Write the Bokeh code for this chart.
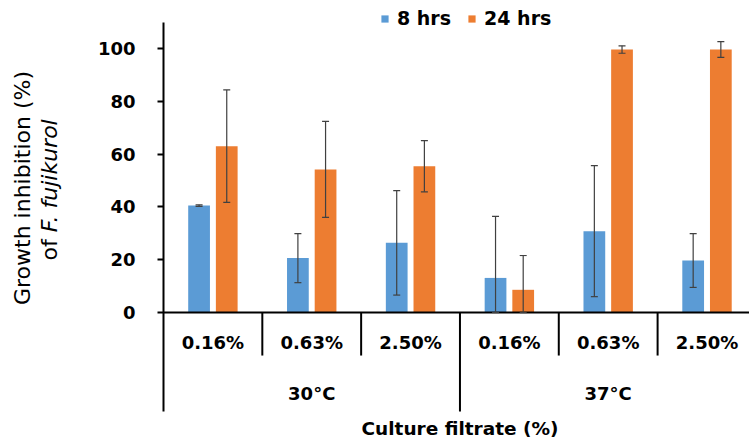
import math
from bokeh.plotting import figure
from bokeh.layouts import row
from bokeh.models import (Range1d, FixedTicker, ColumnDataSource, Whisker, TeeHead,
                          Legend, LegendItem)
from bokeh.core.properties import value
from bokeh.embed import file_html
from bokeh.resources import INLINE

# ---------------- data ----------------
categories = ["0.16%", "0.63%", "2.50%", "0.16%", "0.63%", "2.50%"]
groups = ["30°C", "37°C"]
series_names = ["8 hrs", "24 hrs"]
inhib_8h = [40.5, 20.6, 26.4, 13.1, 30.8, 19.7]
err_8h = [0.3, 9.3, 19.8, 23.3, 24.8, 10.2]
inhib_24h = [63.0, 54.2, 55.4, 8.6, 99.6, 99.6]
err_24h = [21.3, 18.2, 9.7, 13.0, 1.4, 3.0]
y_ticks = [0, 20, 40, 60, 80, 100]
y_title = "Growth inhibition (%)"
y_title2a = "of "
y_title2b = "F. fujikurol"
x_title = "Culture filtrate (%)"

BLUE = "#5B9BD5"
ORANGE = "#ED7D31"
ERR = "#404040"
FONT = "DejaVu Sans"

W, H = 749, 441
TW = 75           # width of the y-title strip

# ---------------- y-title strip ----------------
t = figure(width=TW, height=H, x_range=Range1d(0, TW), y_range=Range1d(0, H),
           output_backend="svg", toolbar_location=None, x_axis_location=None, y_axis_location=None,
           min_border=0)
t.outline_line_color = None
t.grid.visible = False
t.text(x=[22], y=[H - 187.5], text=[y_title], angle=math.pi / 2, text_align="center",
       text_baseline="middle", text_font=value(FONT), text_font_size="22px", text_color="black")
t.text(x=[49], y=[H - 260], text=[y_title2a], angle=math.pi / 2, text_align="left",
       text_baseline="middle", text_font=value(FONT), text_font_size="22px", text_color="black")
t.text(x=[49], y=[H - 260 + 28.2], text=[y_title2b], angle=math.pi / 2, text_align="left",
       text_baseline="middle", text_font=value(FONT), text_font_size="22px",
       text_font_style="italic", text_color="black")

# ---------------- main chart ----------------
n = len(categories)
centers = [i + 0.5 for i in range(n)]
off, bw = 0.14, 0.22

p = figure(width=W - TW, height=H, x_range=Range1d(0, 5.93), y_range=Range1d(-48.86, 118.18),
           output_backend="svg", toolbar_location=None, x_axis_location=None,
           min_border_left=163 - TW, min_border_right=0, min_border_top=0, min_border_bottom=0)
p.outline_line_color = None
p.grid.visible = False

ya = p.yaxis[0]
ya.ticker = FixedTicker(ticks=y_ticks)
ya.bounds = (-37.5, 110)
ya.axis_line_width = 2
ya.axis_line_color = "black"
ya.major_tick_line_width = 2
ya.major_tick_line_color = "black"
ya.major_tick_out = 6
ya.major_tick_in = 0
ya.minor_tick_line_color = None
ya.major_label_standoff = 22
ya.major_label_text_font = FONT
ya.major_label_text_font_style = "bold"
ya.major_label_text_font_size = "18px"
ya.major_label_text_color = "black"

src8 = ColumnDataSource(dict(x=[c - off for c in centers], top=inhib_8h,
                             upper=[v + e for v, e in zip(inhib_8h, err_8h)],
                             lower=[max(0, v - e) for v, e in zip(inhib_8h, err_8h)]))
src24 = ColumnDataSource(dict(x=[c + off for c in centers], top=inhib_24h,
                              upper=[v + e for v, e in zip(inhib_24h, err_24h)],
                              lower=[max(0, v - e) for v, e in zip(inhib_24h, err_24h)]))
r8 = p.vbar(x="x", top="top", bottom=0, width=bw, source=src8, fill_color=BLUE, line_color=None)
r24 = p.vbar(x="x", top="top", bottom=0, width=bw, source=src24, fill_color=ORANGE, line_color=None)

for s in (src8, src24):
    w = Whisker(source=s, base="x", upper="upper", lower="lower", line_color=ERR, line_width=1.2,
                level="overlay",
                upper_head=TeeHead(size=7, line_color=ERR, line_width=1.2),
                lower_head=TeeHead(size=7, line_color=ERR, line_width=1.2))
    p.add_layout(w)

# horizontal axis line and category separators
p.segment(x0=[0], y0=[0], x1=[6], y1=[0], line_color="black", line_width=2)
p.segment(x0=[1, 2, 4, 5], y0=[0] * 4, x1=[1, 2, 4, 5], y1=[-16.3] * 4, line_color="black", line_width=2)
p.segment(x0=[3], y0=[0], x1=[3], y1=[-37.5], line_color="black", line_width=2)

p.text(x=centers, y=[-11.4] * n, text=categories, text_align="center", text_baseline="middle",
       text_font=value(FONT), text_font_style="bold", text_font_size="18px", text_color="black")
p.text(x=[1.5, 4.5], y=[-30.7, -30.7], text=groups, text_align="center", text_baseline="middle",
       text_font=value(FONT), text_font_style="bold", text_font_size="18px", text_color="black")
p.text(x=[3.0], y=[-43.9], text=[x_title], text_align="center", text_baseline="middle",
       text_font=value(FONT), text_font_style="bold", text_font_size="18.5px", text_color="black")

legend = Legend(items=[LegendItem(label=series_names[0], renderers=[r8]),
                       LegendItem(label=series_names[1], renderers=[r24])],
                orientation="horizontal", location=(217, 412),
                glyph_width=9, glyph_height=9, label_height=20, label_standoff=8, spacing=16,
                padding=0, margin=0, border_line_color=None, background_fill_alpha=0,
                label_text_font=FONT, label_text_font_style="bold", label_text_font_size="19px",
                label_text_color="black")
p.add_layout(legend, "center")

layout = row(t, p, spacing=0)
open("out.html", "w").write(file_html(layout, INLINE))
